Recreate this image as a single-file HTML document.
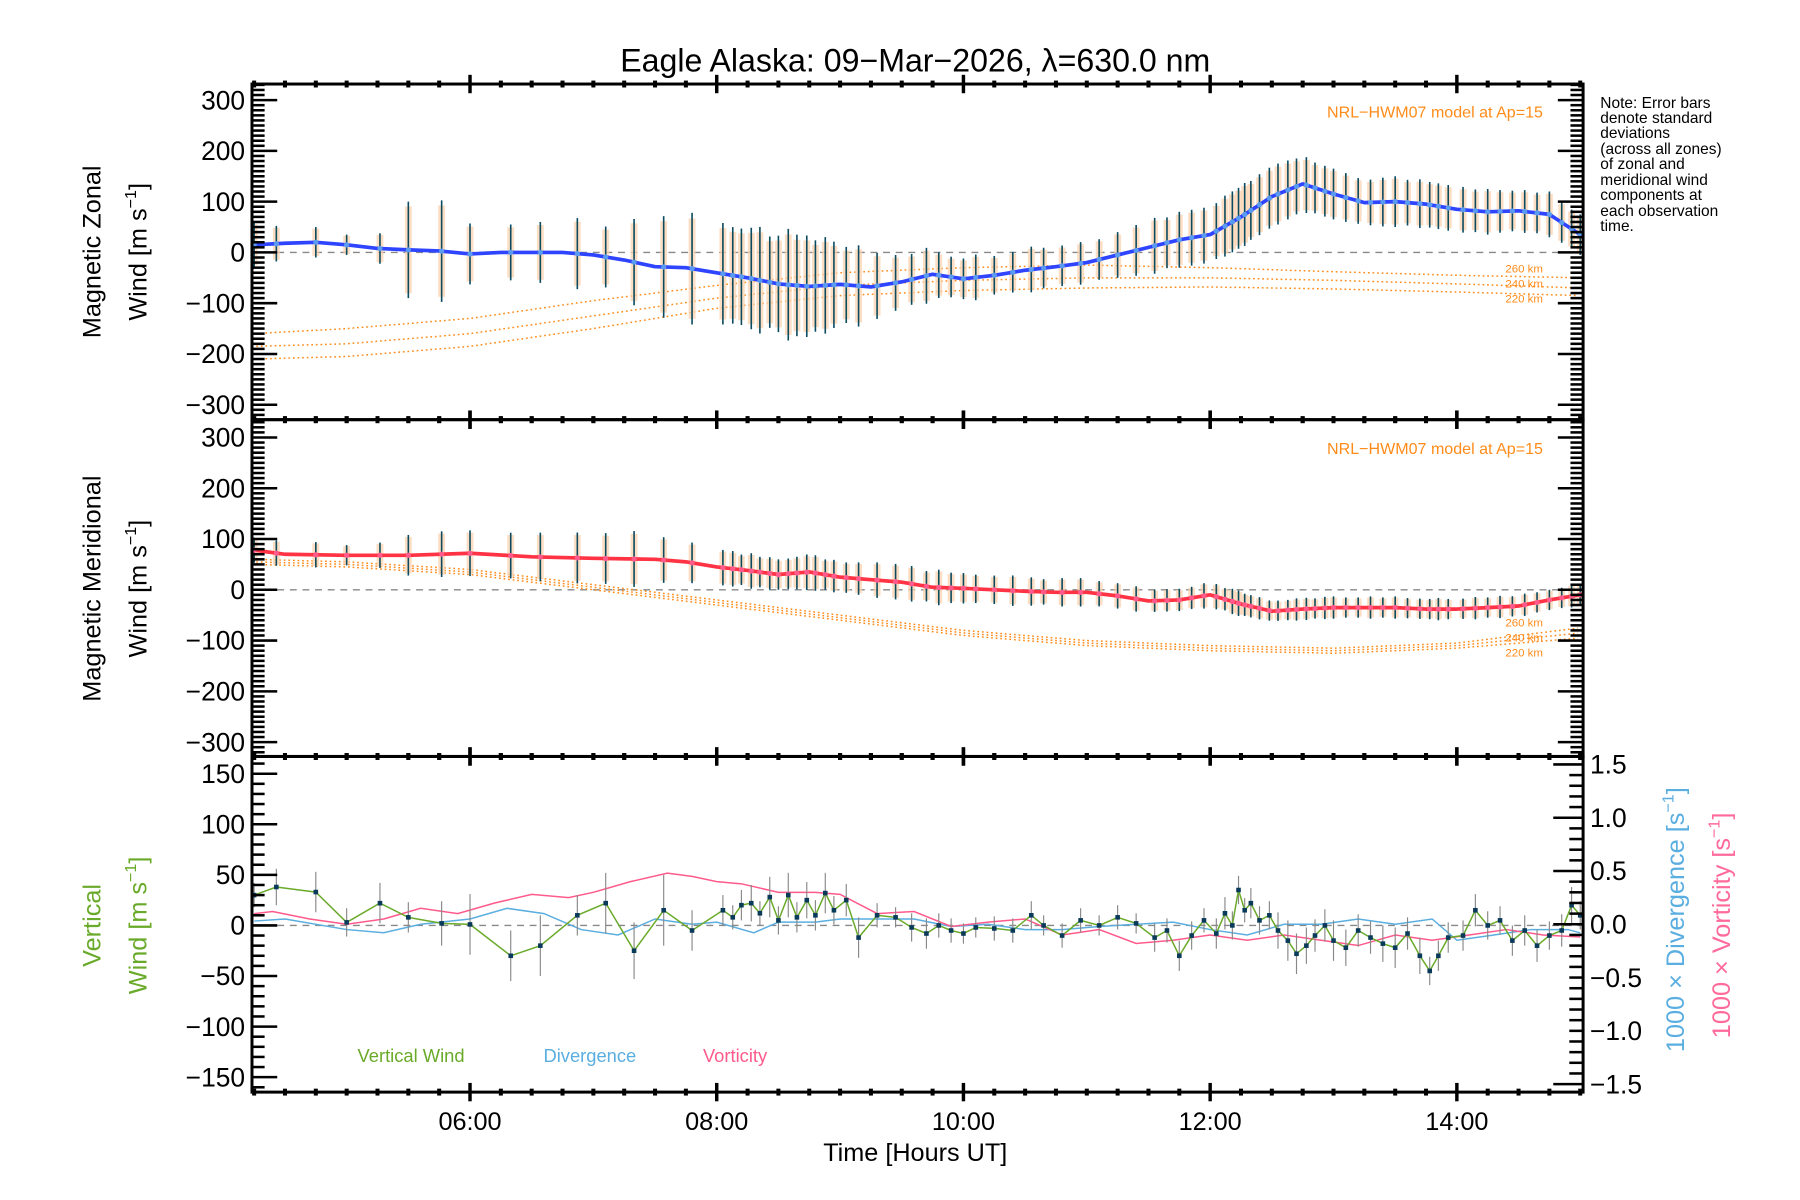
<!DOCTYPE html>
<html><head><meta charset="utf-8"><style>
html,body{margin:0;padding:0;background:#fff}
svg{display:block}
text{font-family:"Liberation Sans",sans-serif}
</style></head><body>
<svg id="chart" width="1800" height="1200" viewBox="0 0 1560 1040" xmlns="http://www.w3.org/2000/svg">
<rect width="1560" height="1040" fill="#fff"/>
<g transform="matrix(0.9945,0,0,0.9962,-0.4,0.1)">
<text x="798" y="62" font-size="28" text-anchor="middle">Eagle Alaska: 09−Mar−2026, λ=630.0 nm</text>
<g id="marks"></g>
<g id="axes"></g>
<text transform="translate(88,219) rotate(-90)" font-size="22" text-anchor="middle">Magnetic Zonal</text>
<text transform="translate(128,219) rotate(-90)" font-size="22" text-anchor="middle">Wind [m s<tspan dy="-9" font-size="14">−1</tspan><tspan dy="9">]</tspan></text>
<text transform="translate(88,512) rotate(-90)" font-size="22" text-anchor="middle">Magnetic Meridional</text>
<text transform="translate(128,512) rotate(-90)" font-size="22" text-anchor="middle">Wind [m s<tspan dy="-9" font-size="14">−1</tspan><tspan dy="9">]</tspan></text>
<text transform="translate(88,805) rotate(-90)" font-size="22" fill="#6aaa2a" text-anchor="middle">Vertical</text>
<text transform="translate(128,805) rotate(-90)" font-size="22" fill="#6aaa2a" text-anchor="middle">Wind [m s<tspan dy="-9" font-size="14">−1</tspan><tspan dy="9">]</tspan></text>
<text transform="translate(1468,800) rotate(-90)" font-size="22" fill="#5aaee0" text-anchor="middle">1000 × Divergence [s<tspan dy="-9" font-size="14">−1</tspan><tspan dy="9">]</tspan></text>
<text transform="translate(1508,805) rotate(-90)" font-size="22" fill="#ff6a9a" text-anchor="middle">1000 × Vorticity [s<tspan dy="-9" font-size="14">−1</tspan><tspan dy="9">]</tspan></text>
<text x="798" y="1010" font-size="22" text-anchor="middle">Time [Hours UT]</text>
<g font-size="13.5">
<text x="1395" y="94">Note: Error bars</text><text x="1395" y="107">denote standard</text><text x="1395" y="120">deviations</text><text x="1395" y="134">(across all zones)</text><text x="1395" y="147">of zonal and</text><text x="1395" y="161">meridional wind</text><text x="1395" y="174">components at</text><text x="1395" y="188">each observation</text><text x="1395" y="201">time.</text>
</g>
<text x="1345" y="102" font-size="14" fill="#ff8c1a" text-anchor="end">NRL−HWM07 model at Ap=15</text>
<text x="1345" y="395" font-size="14" fill="#ff8c1a" text-anchor="end">NRL−HWM07 model at Ap=15</text>
<g font-size="10" fill="#ff8c1a" text-anchor="end">
<text x="1345" y="237">260 km</text>
<text x="1345" y="250">240 km</text>
<text x="1345" y="263">220 km</text>
<text x="1345" y="545">260 km</text>
<text x="1345" y="558">240 km</text>
<text x="1345" y="571">220 km</text>
</g>
<text x="312" y="924" font-size="16" fill="#6aaa2a">Vertical Wind</text>
<text x="474" y="924" font-size="16" fill="#5aaee0">Divergence</text>
<text x="613" y="924" font-size="16" fill="#ff5a8c">Vorticity</text>
</g>
</svg>
<script>
// ---- data ----
const meanTimes = [4.25,4.5,4.75,5.0,5.25,5.5,5.75,6.0,6.25,6.5,6.75,7.0,7.25,7.5,7.75,8.0,8.25,8.5,8.75,9.0,9.25,9.5,9.75,10.0,10.25,10.5,10.75,11.0,11.25,11.5,11.75,12.0,12.25,12.5,12.75,13.0,13.25,13.5,13.75,14.0,14.25,14.5,14.75,15.0];
const zonalMean = [15,18,20,15,8,5,3,-3,0,0,0,-5,-15,-28,-30,-40,-50,-62,-67,-63,-68,-58,-43,-52,-45,-35,-28,-20,-5,10,25,35,70,110,135,115,98,100,95,85,80,82,75,35];
const meridMeanTimes = [4.25,4.5,5.0,5.5,6.0,6.5,7.0,7.5,7.75,8.0,8.25,8.5,8.75,9.0,9.25,9.5,9.75,10.0,10.25,10.5,10.75,11.0,11.25,11.5,11.75,12.0,12.25,12.5,12.75,13.0,13.25,13.5,13.75,14.0,14.25,14.5,14.75,15.0];
const meridMean = [78,70,68,68,72,65,62,60,55,45,38,30,35,25,20,15,5,3,0,-3,-5,-5,-12,-22,-20,-10,-28,-42,-38,-35,-35,-35,-38,-38,-35,-32,-20,-10];
const obsTimes = [4.25,4.43,4.75,5.0,5.27,5.5,5.77,6.0,6.33,6.57,6.87,7.1,7.33,7.57,7.8,8.05,8.13,8.2,8.28,8.35,8.43,8.5,8.58,8.65,8.73,8.8,8.88,8.95,9.05,9.15,9.3,9.45,9.58,9.7,9.8,9.9,10.0,10.1,10.25,10.4,10.55,10.65,10.8,10.95,11.1,11.25,11.4,11.55,11.65,11.75,11.85,11.95,12.05,12.12,12.18,12.23,12.28,12.33,12.4,12.48,12.55,12.63,12.7,12.78,12.85,12.93,13.0,13.1,13.2,13.3,13.4,13.5,13.6,13.7,13.78,13.85,13.93,14.05,14.15,14.25,14.35,14.45,14.55,14.65,14.75,14.85,14.93,15.0];
const zonalErr = [45,35,30,20,30,95,100,60,55,60,70,60,85,100,110,100,95,95,100,105,90,95,110,100,100,90,95,85,75,80,65,55,50,55,45,40,40,45,38,40,45,40,40,42,40,45,50,55,50,55,55,55,55,60,60,60,62,58,60,60,60,58,55,55,50,50,50,48,45,45,48,50,45,48,45,45,45,45,42,45,42,40,42,40,45,40,38,40];
const meridErr = [25,25,25,20,25,40,45,45,45,48,50,50,55,45,40,35,35,30,35,30,32,30,30,32,35,35,30,32,30,32,35,35,35,30,35,30,30,28,28,30,28,25,28,28,25,25,25,22,22,22,22,25,25,22,25,25,22,22,22,20,20,20,22,22,20,22,22,20,20,22,20,22,20,20,20,22,20,20,22,20,22,20,22,20,20,20,22,20];
const vertWind = [30,38,33,3,22,8,2,1,-30,-20,10,22,-25,15,-5,15,8,20,22,12,28,5,30,8,25,10,32,15,25,-12,10,8,-2,-8,0,-5,-8,-2,-3,-5,10,0,-10,5,0,8,2,-12,-5,-30,-10,5,-8,12,0,35,15,22,5,10,-5,-15,-28,-20,-10,0,-15,-22,-5,-12,-18,-22,-8,-30,-45,-30,-12,-10,15,0,5,-15,-5,-20,-10,-5,20,10];
const vertErr = [12,18,20,14,20,15,22,30,25,30,20,30,28,35,20,15,12,15,18,12,20,14,22,15,18,15,20,14,16,20,12,10,14,15,12,12,10,10,12,12,14,10,12,12,10,12,10,14,12,15,14,12,15,16,14,14,12,15,14,14,18,20,20,18,16,16,20,18,16,16,18,20,16,18,14,15,15,15,16,14,14,15,15,16,14,16,18,14];
const divTimes = [4.25,4.5,5.0,5.3,5.6,6.0,6.3,6.6,6.9,7.2,7.5,7.8,8.0,8.3,8.5,8.8,9.0,9.3,9.6,9.9,10.2,10.5,10.8,11.1,11.4,11.7,12.0,12.3,12.6,12.9,13.2,13.5,13.8,14.0,14.3,14.6,14.9,15.0];
const divergence = [0.03,0.05,-0.05,-0.08,0.0,0.05,0.15,0.1,-0.05,-0.1,0.05,0.0,0.02,-0.08,0.02,0.02,0.05,0.05,0.05,-0.02,0.0,-0.05,-0.05,-0.02,0.0,0.02,-0.05,-0.1,0.0,0.0,0.05,0.0,0.05,-0.15,-0.1,-0.05,-0.05,-0.08];
const vortTimes = [4.25,4.4,4.7,5.0,5.3,5.6,5.9,6.2,6.5,6.8,7.0,7.3,7.6,7.8,8.0,8.2,8.5,8.8,9.0,9.3,9.6,9.9,10.2,10.5,10.8,11.1,11.4,11.7,12.0,12.3,12.6,12.9,13.2,13.5,13.8,14.1,14.4,14.7,15.0];
const vorticity = [0.1,0.12,0.05,0.0,0.05,0.15,0.1,0.2,0.28,0.25,0.3,0.4,0.48,0.45,0.4,0.38,0.3,0.3,0.28,0.1,0.12,-0.02,0.02,0.05,-0.1,-0.05,-0.18,-0.15,-0.1,-0.15,-0.1,-0.15,-0.2,-0.1,-0.15,-0.1,-0.05,-0.1,-0.12];
const modelTimes = [4.25,5,6,7,8,9,10,11,12,13,14,15];
const zonal220 = [-210,-205,-185,-150,-110,-85,-75,-70,-68,-72,-78,-85];
const zonal240 = [-185,-180,-160,-125,-90,-65,-55,-50,-50,-55,-62,-70];
const zonal260 = [-160,-150,-130,-95,-65,-40,-30,-25,-30,-38,-45,-50];
const merid220 = [50,45,30,0,-30,-60,-90,-110,-120,-125,-115,-95];
const merid240 = [55,50,35,5,-25,-55,-85,-105,-115,-120,-110,-85];
const merid260 = [60,55,40,10,-20,-50,-80,-100,-110,-115,-105,-75];
const xTickLabels = ["06:00","08:00","10:00","12:00","14:00"];
const xTickHours = [6,8,10,12,14];
const windTicks = [300,200,100,0,-100,-200,-300];
const vertTicks = [150,100,50,0,-50,-100,-150];
const rightTicks = [1.5,1.0,0.5,0.0,-0.5,-1.0,-1.5];

// ---- scales ----
const L=220,R=1380;
const X = h => 410 + (h-6)*107.5;
const Y1 = v => 219.5 - v*0.4417;
const Y2 = v => 513 - v*0.4417;
const Y3 = v => 805 - v*0.88;
const Y3r = v => 804 - v*92.7;
const NS='http://www.w3.org/2000/svg';
const marks=document.getElementById('marks'), axes=document.getElementById('axes');
function mk(tag, attrs, parent){const e=document.createElementNS(NS,tag);for(const k in attrs)e.setAttribute(k,attrs[k]);(parent||marks).appendChild(e);return e;}
function interp(ts,vs,t){if(t<=ts[0])return vs[0];for(let i=1;i<ts.length;i++){if(t<=ts[i]){const f=(t-ts[i-1])/(ts[i]-ts[i-1]);return vs[i-1]+f*(vs[i]-vs[i-1]);}}return vs[vs.length-1];}
function pts(ts,vs,Y){return ts.map((t,i)=>X(t).toFixed(1)+','+Y(vs[i]).toFixed(1)).join(' ');}
const clip=mk('clipPath',{id:'pc'});mk('rect',{x:L,y:73,width:R-L,height:877},clip);
const g=mk('g',{'clip-path':'url(#pc)'});

[[Y1,'zonal-zero-line'],[Y2,'meridional-zero-line'],[Y3,'vertical-zero-line']].forEach(([Y,n])=>{
  const e=mk('line',{x1:L,x2:R,y1:Y(0),y2:Y(0),stroke:'#888','stroke-width':1.2,'stroke-dasharray':'6,5'},g);
  
  
});
[[zonal220,Y1,'zonal-model-220km'],[zonal240,Y1,'zonal-model-240km'],[zonal260,Y1,'zonal-model-260km'],[merid220,Y2,'meridional-model-220km'],[merid240,Y2,'meridional-model-240km'],[merid260,Y2,'meridional-model-260km']].forEach(([vs,Y,n])=>{
  const pp=[];for(let t=4.23;t<=15.03;t+=0.05)pp.push(X(t).toFixed(1)+','+Y(interp(modelTimes,vs,t)).toFixed(1));
  const e=mk('polyline',{points:pp.join(' '),fill:'none',stroke:'#ff8c1a','stroke-width':1.3,'stroke-dasharray':'1.5,2.5'},g);
  
  
});
obsTimes.forEach((t,i)=>{
  [[zonalMean,meanTimes,zonalErr,Y1,'zonal'],[meridMean,meridMeanTimes,meridErr,Y2,'meridional']].forEach(([mv,mt,er,Y,n])=>{
    const c=interp(mt,mv,t), e=er[i]||30, x=X(t);
    const p=mk('rect',{x:x-3,y:Y(c+e*0.9),width:6,height:Y(c-e*0.9)-Y(c+e*0.9),fill:'#fbd3b0',opacity:0.75},g);
    
    
    const b=mk('line',{x1:x,x2:x,y1:Y(c+e),y2:Y(c-e),stroke:'#0c4a5e','stroke-width':1.4},g);
    
    
  });
});
let zl=mk('polyline',{points:pts(meanTimes,zonalMean,Y1),fill:'none',stroke:'#2e44ff','stroke-width':3.2,'stroke-linejoin':'round'},g);


let ml=mk('polyline',{points:pts(meridMeanTimes,meridMean,Y2),fill:'none',stroke:'#ff3344','stroke-width':3.2,'stroke-linejoin':'round'},g);


obsTimes.forEach(t=>{
  const a=mk('circle',{cx:X(t),cy:Y1(interp(meanTimes,zonalMean,t)),r:2.3,fill:'#5a9af0'},g);
  
  
  const b=mk('circle',{cx:X(t),cy:Y2(interp(meridMeanTimes,meridMean,t)),r:2.3,fill:'#ff5a8c'},g);
  
  
});
let dl=mk('polyline',{points:pts(divTimes,divergence,Y3r),fill:'none',stroke:'#5aaee0','stroke-width':1.3},g);


let vl=mk('polyline',{points:pts(vortTimes,vorticity,Y3r),fill:'none',stroke:'#ff5a8c','stroke-width':1.3},g);


const n3=Math.min(obsTimes.length,vertWind.length);
obsTimes.slice(0,n3).forEach((t,i)=>{
  const e=vertErr[i]||15;
  const b=mk('line',{x1:X(t),x2:X(t),y1:Y3(vertWind[i]+e),y2:Y3(vertWind[i]-e),stroke:'#888','stroke-width':1},g);
  
  
});
let wl=mk('polyline',{points:pts(obsTimes.slice(0,n3),vertWind.slice(0,n3),Y3),fill:'none',stroke:'#6aaa2a','stroke-width':1.3},g);


obsTimes.slice(0,n3).forEach((t,i)=>{
  const p=mk('rect',{x:X(t)-2,y:Y3(vertWind[i])-2,width:4,height:4,fill:'#0a3a5a'},g);
  
  
});

const panels=[[73,365,Y1,windTicks,100,10,'zonal'],[365,658,Y2,windTicks,100,10,'meridional'],[658,950,Y3,vertTicks,50,10,'vertical']];
panels.forEach(([top,bot,Y,ticks,maj,mn,n])=>{
  const f=mk('rect',{x:L,y:top,width:R-L,height:bot-top,fill:'none',stroke:'#000','stroke-width':2.6},axes);
  
  
  const lo=ticks[ticks.length-1]-maj/2, hi=ticks[0]+maj/2;
  for(let v=Math.ceil(lo/mn)*mn; v<=hi; v+=mn){
    const y=Y(v); if(y<top||y>bot) continue;
    const isMaj = Math.abs(v%maj)<1e-6;
    const len=isMaj?22:11;
    mk('line',{x1:L,x2:L+len,y1:y,y2:y,stroke:'#000','stroke-width':2.2},axes);
    if(n!=='vertical') mk('line',{x1:R,x2:R-len,y1:y,y2:y,stroke:'#000','stroke-width':2.2},axes);
  }
  ticks.forEach(v=>{
    const t=mk('text',{x:L-6,y:Y(v)+8,'font-size':23,'text-anchor':'end'},axes);
    t.textContent=(v<0?'−':'')+Math.abs(v);
    
    
  });
  for(let h=4.25; h<=15.01; h+=0.25){
    const x=X(h), isMaj=Math.abs(h-Math.round(h))<1e-6 && Math.round(h)%2===0;
    const len=isMaj?8:3;
    [top,bot].forEach(yy=>mk('line',{x1:x,x2:x,y1:yy-len,y2:yy+len,stroke:'#000','stroke-width':isMaj?3:3.5},axes));
  }
});
for(let v=-1.5; v<=1.5001; v+=0.1){
  const y=Y3r(v), isMaj=Math.abs((v*10)%5)<1e-3;
  mk('line',{x1:R,x2:R-(isMaj?26:12),y1:y,y2:y,stroke:'#000','stroke-width':2.2},axes);
}
rightTicks.forEach(v=>{
  const t=mk('text',{x:R+6,y:Y3r(v)+8,'font-size':23},axes);
  t.textContent=(v<0?'−':'')+Math.abs(v).toFixed(1);
  
  
});
xTickHours.forEach((h,i)=>{
  const t=mk('text',{x:X(h),y:983,'font-size':22,'text-anchor':'middle'},axes);
  t.textContent=xTickLabels[i];
  
  
});
</script>
</body></html>
